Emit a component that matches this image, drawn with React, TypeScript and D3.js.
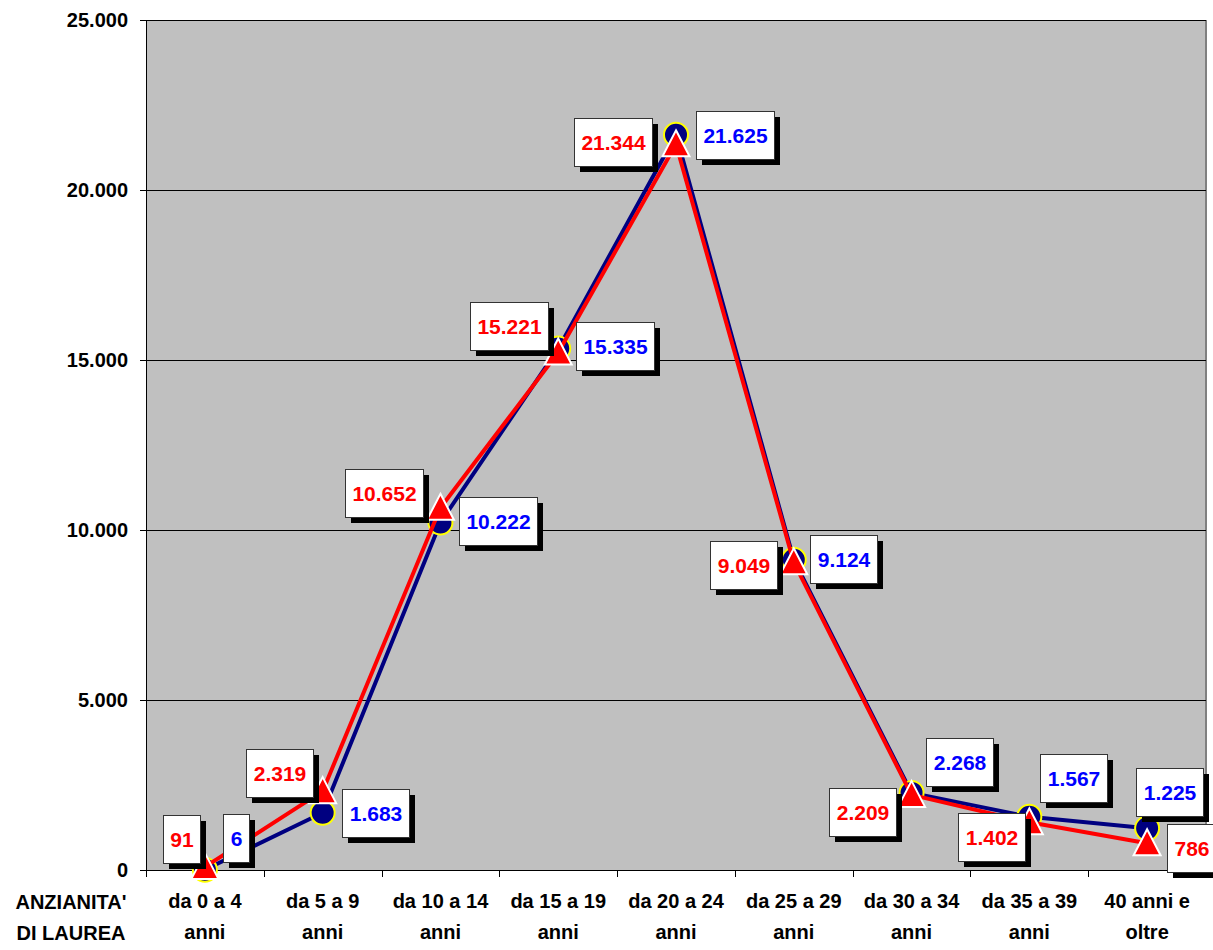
import React from "react";
import * as d3 from "d3";

// Years since graduation (two-line category labels)
const categories: string[][] = [
  ["da 0 a 4", "anni"],
  ["da 5 a 9", "anni"],
  ["da 10 a 14", "anni"],
  ["da 15 a 19", "anni"],
  ["da 20 a 24", "anni"],
  ["da 25 a 29", "anni"],
  ["da 30 a 34", "anni"],
  ["da 35 a 39", "anni"],
  ["40 anni e", "oltre"],
];

const seriesBlue: number[] = [6, 1683, 10222, 15335, 21625, 9124, 2268, 1567, 1225];
const seriesRed: number[] = [91, 2319, 10652, 15221, 21344, 9049, 2209, 1402, 786];

const yTicks: number[] = [0, 5000, 10000, 15000, 20000, 25000];
const axisTitle: string[] = ["ANZIANITA'", "DI LAUREA"];

// Data label placement: box centre offset from its point
const redLabelOffsets: [number, number][] = [
  [-23, -28], [-43, -18], [-56.5, -15], [-49, -26], [-63.5, -2],
  [-50, 3], [-49.5, 17], [-38, 15], [44.5, 5],
];
const blueLabelOffsets: [number, number][] = [
  [31.5, -31.5], [52.5, 0], [57.5, -1.5], [57, -2.6], [59, 0],
  [49.5, -1], [48, -31], [44.5, -39], [22, -36],
];

const W = 1213;
const H = 950;
const plot = { left: 146, right: 1206, top: 20, bottom: 870 };
const FONT = "'Liberation Sans', Arial, sans-serif";
const LABEL_FONT_SIZE = 21;
const AXIS_FONT_SIZE = 20;

const itLocale = d3.formatLocale({
  decimal: ",",
  thousands: ".",
  grouping: [3],
  currency: ["", " €"],
});
const fmt = itLocale.format(",d");

let measureCtx: CanvasRenderingContext2D | null = null;
function textWidth(s: string, size: number): number {
  if (!measureCtx) {
    const c = document.createElement("canvas");
    measureCtx = c.getContext("2d");
  }
  if (!measureCtx) return s.length * size * 0.556;
  measureCtx.font = `bold ${size}px ${FONT}`;
  return measureCtx.measureText(s).width;
}

function DataLabel({ x, y, text, color }: { x: number; y: number; text: string; color: string }) {
  const w = Math.round(textWidth(text, LABEL_FONT_SIZE) + 14);
  const h = 48;
  const x0 = Math.round(x - w / 2) + 0.5;
  const y0 = Math.round(y - h / 2) + 0.5;
  return (
    <g>
      <rect x={x0 + 5} y={y0 + 5} width={w} height={h} fill="#000" shapeRendering="crispEdges" />
      <rect x={x0} y={y0} width={w} height={h} fill="#fff" stroke="#333" strokeWidth={1} shapeRendering="crispEdges" />
      <text
        x={x0 + w / 2}
        y={y0 + h / 2 + 7.5}
        textAnchor="middle"
        fontFamily={FONT}
        fontWeight="bold"
        fontSize={LABEL_FONT_SIZE}
        fill={color}
      >
        {text}
      </text>
    </g>
  );
}

export default function App() {
  const xBand = d3
    .scaleBand<number>()
    .domain(categories.map((_, i) => i))
    .range([plot.left, plot.right])
    .paddingInner(0)
    .paddingOuter(0);
  const cx = (i: number) => (xBand(i) as number) + xBand.bandwidth() / 2;
  const y = d3.scaleLinear().domain([0, 25000]).range([plot.bottom, plot.top]);

  const line = d3
    .line<number>()
    .x((_, i) => cx(i))
    .y((d) => y(d));

  const boundaries = d3.range(categories.length + 1).map((k) => plot.left + k * xBand.bandwidth());

  const tri = (x: number, yy: number) =>
    `M${x},${yy - 14}L${x + 13.5},${yy + 12}L${x - 13.5},${yy + 12}Z`;

  const crisp = (v: number) => Math.round(v) + 0.5;

  return (
    <svg
      width={W}
      height={H}
      style={{ position: "absolute", left: 0, top: 0, background: "#fff" }}
    >
      {/* plot area */}
      <rect
        x={plot.left}
        y={plot.top}
        width={plot.right - plot.left}
        height={plot.bottom - plot.top}
        fill="#C0C0C0"
      />
      <line x1={plot.right} x2={plot.right} y1={plot.top} y2={plot.bottom} stroke="#808080" strokeWidth={2} shapeRendering="crispEdges" />

      {/* gridlines and y ticks */}
      {yTicks.map((t) => (
        <g key={t}>
          <line
            x1={plot.left - 6}
            x2={plot.right}
            y1={crisp(y(t))}
            y2={crisp(y(t))}
            stroke="#000"
            strokeWidth={1}
            shapeRendering="crispEdges"
          />
          <text
            x={128}
            y={y(t)}
            dy="0.35em"
            textAnchor="end"
            fontFamily={FONT}
            fontWeight="bold"
            fontSize={AXIS_FONT_SIZE}
            fill="#000"
          >
            {fmt(t)}
          </text>
        </g>
      ))}

      {/* axes */}
      <line x1={crisp(plot.left)} x2={crisp(plot.left)} y1={plot.top} y2={plot.bottom} stroke="#000" strokeWidth={1} shapeRendering="crispEdges" />
      <line x1={plot.left} x2={plot.right} y1={crisp(plot.bottom)} y2={crisp(plot.bottom)} stroke="#000" strokeWidth={1} shapeRendering="crispEdges" />
      {boundaries.map((bx, k) => (
        <line
          key={k}
          x1={crisp(bx)}
          x2={crisp(bx)}
          y1={plot.bottom}
          y2={plot.bottom + 7}
          stroke="#000"
          strokeWidth={1}
          shapeRendering="crispEdges"
        />
      ))}

      {/* category labels */}
      {categories.map((lines, i) => (
        <text
          key={i}
          x={cx(i)}
          textAnchor="middle"
          fontFamily={FONT}
          fontWeight="bold"
          fontSize={AXIS_FONT_SIZE}
          fill="#000"
        >
          <tspan x={cx(i)} y={908}>{lines[0]}</tspan>
          <tspan x={cx(i)} y={939}>{lines[1]}</tspan>
        </text>
      ))}
      <text textAnchor="middle" fontFamily={FONT} fontWeight="bold" fontSize={AXIS_FONT_SIZE} fill="#000">
        <tspan x={71} y={909}>{axisTitle[0]}</tspan>
        <tspan x={71} y={940}>{axisTitle[1]}</tspan>
      </text>

      {/* blue series */}
      <path d={line(seriesBlue) ?? ""} fill="none" stroke="#000080" strokeWidth={4} strokeLinejoin="round" />
      {seriesBlue.map((v, i) => (
        <circle key={i} cx={cx(i)} cy={y(v)} r={12} fill="#000080" stroke="#FFFF00" strokeWidth={2} />
      ))}

      {/* red series */}
      <path d={line(seriesRed) ?? ""} fill="none" stroke="#FF0000" strokeWidth={4} strokeLinejoin="round" />
      {seriesRed.map((v, i) => (
        <path key={i} d={tri(cx(i), y(v))} fill="#FF0000" stroke="#fff" strokeWidth={2} strokeLinejoin="miter" />
      ))}

      {/* data labels */}
      {seriesRed.map((v, i) => (
        <DataLabel
          key={`r${i}`}
          x={cx(i) + redLabelOffsets[i][0]}
          y={y(v) + redLabelOffsets[i][1]}
          text={fmt(v)}
          color="#FF0000"
        />
      ))}
      {seriesBlue.map((v, i) => (
        <DataLabel
          key={`b${i}`}
          x={cx(i) + blueLabelOffsets[i][0]}
          y={y(v) + blueLabelOffsets[i][1]}
          text={fmt(v)}
          color="#0000FF"
        />
      ))}
    </svg>
  );
}
